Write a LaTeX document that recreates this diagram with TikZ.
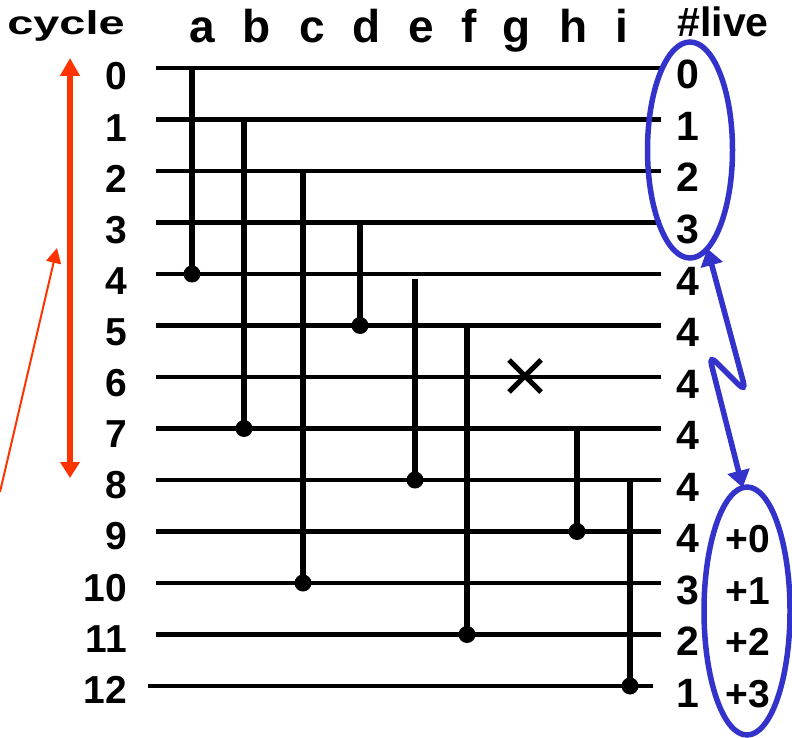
\documentclass[tikz,border=0pt]{standalone}
\usepackage{fontspec}
\setmainfont{Liberation Sans}
\usepackage{graphicx}
\usetikzlibrary{arrows.meta,shapes.geometric}
\definecolor{redarrow}{RGB}{255,51,0}
\definecolor{bluemark}{RGB}{51,51,204}
\begin{document}
\begin{tikzpicture}[x=1pt,y=-1pt,
  every node/.style={inner sep=0pt, outer sep=0pt},
  numlab/.style={font=\fontsize{39}{40}\selectfont\bfseries},
  livelab/.style={font=\fontsize{41}{41}\selectfont\bfseries},
  collab/.style={font=\fontsize{46}{46}\selectfont\bfseries},
  rowline/.style={line width=4.5pt, black},
  colline/.style={line width=6pt, black},
  dotmark/.style={circle, fill=black, minimum size=17pt},
  blueell/.style={draw=bluemark, line width=5.5pt, ellipse},
  bluearr/.style={draw=bluemark, line width=5.5pt, rounded corners=10pt,
     {Triangle[length=17pt,width=22pt]}-{Triangle[length=17pt,width=22pt]}},
  redthick/.style={draw=redarrow, line width=5.5pt,
     {Triangle[length=18pt,width=19pt]}-{Triangle[length=16pt,width=19pt]}},
  redthin/.style={draw=redarrow, line width=2pt, -{Triangle[length=15pt,width=15pt]}},
  xmark/.style={line width=5pt, black}
]
\useasboundingbox (0,0) rectangle (792,738);

% header texts
\node[anchor=base, font=\fontsize{33}{33}\selectfont\bfseries] (hcycle) at (66,35) {\scalebox{1.42}[1]{cycle}};
\node[anchor=base, livelab] (hlive) at (723,37) {\#live};
\foreach \n/\x in {a/202,b/257,c/312,d/367,e/421,f/469,g/517,h/574,i/622}
  \node[anchor=base, collab] (col-\n) at (\x,43) {\n};

% row lines and labels
\foreach \i in {0,...,11} {
  \coordinate (L\i) at (156,{68+51.5*\i});
  \coordinate (R\i) at (661,{68+51.5*\i});
}
\coordinate (L12) at (148,686);
\coordinate (R12) at (653,686);
\foreach \i in {0,...,12} {
  \draw[rowline] (L\i) -- (R\i);
  \node[anchor=base east, numlab] (cyc\i) at (127,{90+51.1*\i}) {\i};
}
\foreach \i/\v in {0/0,1/1,2/2,3/3,4/4,5/4,6/4,7/4,8/4,9/4,10/3,11/2,12/1}
  \node[anchor=base, livelab] (live\i) at (688,{68+51.5*\i+21}) {\v};
\foreach \k/\i in {0/9,1/10,2/11,3/12}
  \node[anchor=base, numlab] (plus\k) at (748,{68+51.5*\i+21}) {+\k};

% column lifetimes
\foreach \n/\x/\s/\e/\o in {a/192/0/4/-2,b/244/1/7/-2,c/303/2/10/-2,d/360/3/5/-2,e/415/4/8/5,f/467/5/11/-2,h/577/7/9/-2,i/630/8/12/-2} {
  \coordinate (top-\n) at (\x,{68+51.5*\s+\o});
  \node[dotmark] (dot-\n) at (\x,{68+51.5*\e}) {};
  \draw[colline] (top-\n) -- (dot-\n.center);
}

% cross for g
\coordinate (gx) at (525,376);
\draw[xmark] ([shift={(-16,-16)}]gx) -- ([shift={(16,16)}]gx);
\draw[xmark] ([shift={(-16,16)}]gx) -- ([shift={(16,-16)}]gx);

% red arrows
\coordinate (rtop) at (70,58);
\coordinate (rbot) at (70,478);
\draw[redthick] (rtop) -- (rbot);
\coordinate (rfrom) at (0,492);
\coordinate (rto) at (57,248);
\draw[redthin] (rfrom) -- (rto);

% blue ellipses and arrow
\node[blueell, minimum width=85pt, minimum height=216pt] (ell1) at (690,150) {};
\node[blueell, minimum width=86pt, minimum height=248pt] (ell2) at (747,611) {};
\coordinate (z1) at (746,392);
\coordinate (z2) at (709,355);
\draw[bluearr] (ell1.-80) -- (z1) -- (z2) -- (ell2.92);
\end{tikzpicture}
\end{document}
